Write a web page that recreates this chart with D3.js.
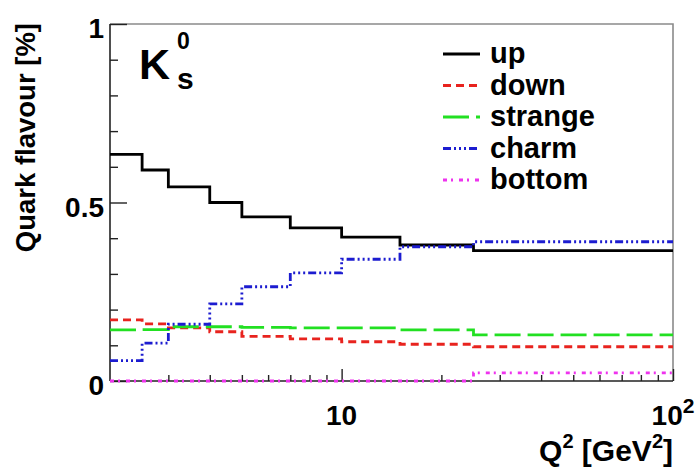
<!DOCTYPE html>
<html>
<head>
<meta charset="utf-8">
<script src="https://cdn.jsdelivr.net/npm/d3@7"></script>
<style>
  html, body { margin: 0; padding: 0; background: #fff; }
  svg { display: block; }
  text { font-family: "Liberation Sans", Arial, Helvetica, sans-serif; font-weight: bold; fill: #000; }
</style>
</head>
<body>
<svg id="chart" width="697" height="468"></svg>
<script>
// Q^2 bin edges [GeV^2]
const binEdges = [2, 2.5, 3, 4, 5, 7, 10, 15, 25, 100];

// fraction of K0s produced from each quark flavour, per Q^2 bin
const upFrac      = [0.635, 0.591, 0.544, 0.500, 0.460, 0.429, 0.403, 0.381, 0.365];
const downFrac    = [0.171, 0.160, 0.149, 0.138, 0.125, 0.118, 0.110, 0.103, 0.096];
const strangeFrac = [0.143, 0.144, 0.152, 0.152, 0.150, 0.149, 0.149, 0.143, 0.129];
const charmFrac   = [0.057, 0.106, 0.159, 0.216, 0.264, 0.303, 0.341, 0.376, 0.390];
const bottomFrac  = [0.000, 0.000, 0.000, 0.000, 0.000, 0.000, 0.000, 0.000, 0.023];

const seriesNames = ["up", "down", "strange", "charm", "bottom"];
const seriesValues = [upFrac, downFrac, strangeFrac, charmFrac, bottomFrac];

const yMajorTicks = [0, 0.5, 1];
const yMinorTicks = [0.1, 0.2, 0.3, 0.4, 0.6, 0.7, 0.8, 0.9];
const xMajorTicks = [10, 100];
const xMinorTicks = [3, 4, 5, 6, 7, 8, 9, 20, 30, 40, 50, 60, 70, 80, 90];

const styles = {
  up:      { color: "#000000", dash: null,                 width: 2.8 },
  down:    { color: "#e8231e", dash: "8,5",                width: 2.8 },
  strange: { color: "#22e022", dash: "26,7",               width: 2.8 },
  charm:   { color: "#1c1cd0", dash: "8,3,2,3,2,3,2,3",    width: 2.8 },
  bottom:  { color: "#ee33ee", dash: "4,4,2,6",            width: 2.8 }
};

const svg = d3.select("#chart");
const frame = { left: 110, right: 673, top: 24, bottom: 381 };

const x = d3.scaleLog().domain([2, 100]).range([frame.left, frame.right]);
const y = d3.scaleLinear().domain([0, 1]).range([frame.bottom, frame.top]);

svg.append("defs").append("clipPath").attr("id", "plotClip")
  .append("rect")
  .attr("x", frame.left).attr("y", frame.top - 2)
  .attr("width", frame.right - frame.left).attr("height", frame.bottom - frame.top + 4);

// top and right frame edges
svg.append("path")
  .attr("d", `M${frame.left},${frame.top}H${frame.right}V${frame.bottom}`)
  .attr("fill", "none").attr("stroke", "#8a8a8a").attr("stroke-width", 1.6);

// y axis (ticks point into the plot)
const yAxisMajor = d3.axisRight(y).tickValues(yMajorTicks).tickSize(17).tickFormat("");
const yAxisMinor = d3.axisRight(y).tickValues(yMinorTicks).tickSize(8).tickFormat("");
[yAxisMajor, yAxisMinor].forEach(ax => {
  const g = svg.append("g").attr("transform", `translate(${frame.left},0)`).call(ax);
  g.select(".domain").remove();
  g.selectAll("line").attr("stroke", "#222").attr("stroke-width", 1.4);
});
svg.append("line")
  .attr("x1", frame.left).attr("x2", frame.left)
  .attr("y1", frame.top).attr("y2", frame.bottom)
  .attr("stroke", "#222").attr("stroke-width", 1.6);

svg.append("g").selectAll("text")
  .data(yMajorTicks).join("text")
  .attr("x", 104)
  .attr("y", d => y(d) + 14)
  .attr("text-anchor", "end")
  .attr("font-size", 28)
  .text(d => d3.format("")(d));

// x axis (log, ticks point upward into the plot)
const xAxisMajor = d3.axisTop(x).tickValues(xMajorTicks).tickSize(12).tickFormat("");
const xAxisMinor = d3.axisTop(x).tickValues(xMinorTicks).tickSize(6).tickFormat("");
[xAxisMajor, xAxisMinor].forEach(ax => {
  const g = svg.append("g").attr("transform", `translate(0,${frame.bottom})`).call(ax);
  g.select(".domain").remove();
  g.selectAll("line").attr("stroke", "#222").attr("stroke-width", 1.4);
});
svg.append("line")
  .attr("x1", frame.left).attr("x2", frame.right)
  .attr("y1", frame.bottom).attr("y2", frame.bottom)
  .attr("stroke", "#222").attr("stroke-width", 1.6);

xMajorTicks.forEach(t => {
  const exp = Math.round(Math.log10(t));
  const label = svg.append("text")
    .attr("x", x(t))
    .attr("y", 425)
    .attr("text-anchor", "middle")
    .attr("font-size", 28);
  if (exp === 1) {
    label.text("10");
  } else {
    label.append("tspan").text("10");
    label.append("tspan").attr("font-size", 21).attr("dy", -12).text(String(exp));
  }
});

// histogram step lines, drawn over the axes
const line = d3.line()
  .x(d => x(d[0]))
  .y(d => y(d[1]))
  .curve(d3.curveStepAfter);

const plot = svg.append("g").attr("clip-path", "url(#plotClip)");
seriesNames.forEach((name, i) => {
  const vals = seriesValues[i];
  const pts = vals.map((v, j) => [binEdges[j], v]);
  pts.push([binEdges[binEdges.length - 1], vals[vals.length - 1]]);
  const st = styles[name];
  plot.append("path")
    .datum(pts)
    .attr("d", line)
    .attr("fill", "none")
    .attr("stroke", st.color)
    .attr("stroke-width", st.width)
    .attr("stroke-dasharray", st.dash)
    .attr("stroke-linejoin", "miter");
});

// axis titles
const xTitle = svg.append("text")
  .attr("x", 673).attr("y", 461)
  .attr("text-anchor", "end")
  .attr("font-size", 30);
xTitle.append("tspan").text("Q");
xTitle.append("tspan").attr("font-size", 20).attr("dy", -13).text("2");
xTitle.append("tspan").attr("dy", 13).text(" [GeV");
xTitle.append("tspan").attr("font-size", 20).attr("dy", -13).text("2");
xTitle.append("tspan").attr("dy", 13).text("]");

svg.append("text")
  .attr("transform", "translate(35,23) rotate(-90)")
  .attr("text-anchor", "end")
  .attr("font-size", 27.5)
  .text("Quark flavour [%]");

// particle label K0s
const kLabel = svg.append("g");
kLabel.append("text").attr("x", 139).attr("y", 79).attr("font-size", 43).text("K");
kLabel.append("text").attr("x", 177).attr("y", 49).attr("font-size", 23).text("0");
kLabel.append("text").attr("x", 177).attr("y", 89).attr("font-size", 30).text("s");

// legend
const legendX = 443, legendLen = 37, legendY0 = 54, legendStep = 31.5;
const legend = svg.append("g");
seriesNames.forEach((name, i) => {
  const st = styles[name];
  const ly = legendY0 + i * legendStep;
  legend.append("line")
    .attr("x1", legendX).attr("x2", legendX + legendLen)
    .attr("y1", ly).attr("y2", ly)
    .attr("stroke", st.color)
    .attr("stroke-width", st.width)
    .attr("stroke-dasharray", st.dash);
  legend.append("text")
    .attr("x", 490).attr("y", ly + 9)
    .attr("font-size", 29)
    .text(name);
});
</script>
</body>
</html>
